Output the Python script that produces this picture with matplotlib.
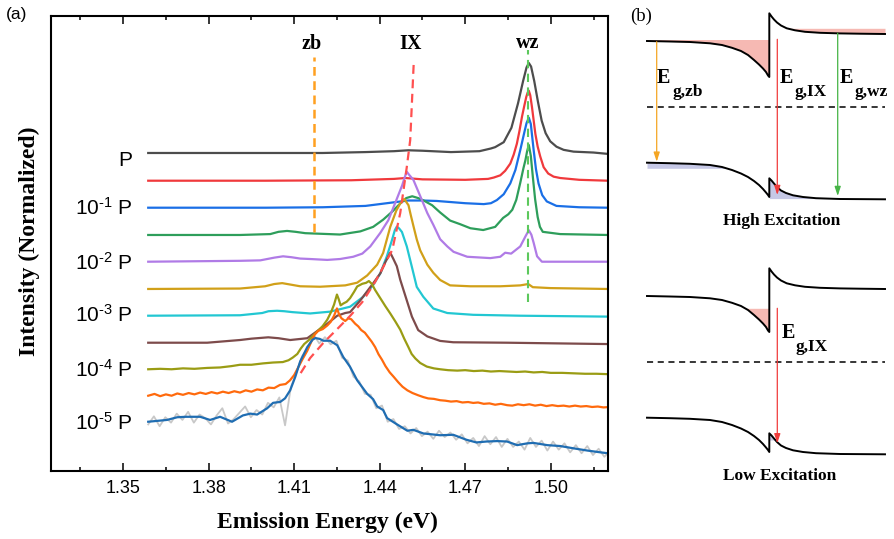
import numpy as np
import matplotlib.pyplot as plt

plt.rcParams.update({
    "font.family": "Liberation Sans",
    "mathtext.fontset": "custom",
    "mathtext.rm": "Liberation Sans",
    "mathtext.it": "Liberation Sans:italic",
    "mathtext.bf": "Liberation Sans:bold",
})
SERIF = "Liberation Serif"

# ---------- (a) spectra: energy (eV) and normalized intensity ----------
gray_e = [1.3588, 1.38, 1.40, 1.42, 1.435, 1.445, 1.45, 1.455, 1.465, 1.475, 1.4790, 1.4805,
          1.4835, 1.4862, 1.4885, 1.4903, 1.4915, 1.4923, 1.4931, 1.4942, 1.4955, 1.4968, 1.4982,
          1.4998, 1.502, 1.5045, 1.508, 1.515, 1.52]
gray_i = [0, 0, 0, 0, 0.01, 0.02, 0.03, 0.025, 0.01, 0.02, 0.05, 0.065,
          0.12, 0.28, 0.55, 0.80, 0.95, 1.00, 0.96, 0.80, 0.57, 0.36, 0.22,
          0.13, 0.07, 0.035, 0.015, 0.005, -0.01]

red_e = [1.3588, 1.40, 1.43, 1.445, 1.449, 1.455, 1.47, 1.4780, 1.4800, 1.4823, 1.4840, 1.4858,
         1.4870, 1.4881, 1.4890, 1.4899, 1.4907, 1.4914, 1.4919, 1.4923, 1.4928, 1.4934, 1.4940,
         1.4946, 1.4954, 1.4963, 1.4975, 1.4991, 1.501, 1.5033, 1.51, 1.52]
red_i = [0, 0, 0.005, 0.02, 0.03, 0.015, 0.01, 0.02, 0.035, 0.06, 0.11, 0.19,
         0.29, 0.41, 0.55, 0.71, 0.83, 0.93, 0.98, 1.0, 0.95, 0.82, 0.67,
         0.52, 0.38, 0.27, 0.15, 0.08, 0.045, 0.03, 0.01, 0.0]

blue_e = [1.3588, 1.40, 1.42, 1.435, 1.44, 1.445, 1.45, 1.455, 1.46, 1.47, 1.4765, 1.4790,
          1.4811, 1.4835, 1.4858, 1.4876, 1.4893, 1.4906, 1.4915, 1.4923, 1.4930, 1.4940, 1.4948,
          1.4957, 1.4970, 1.4986, 1.502, 1.51, 1.52]
blue_i = [0, 0, 0.005, 0.02, 0.04, 0.06, 0.08, 0.08, 0.075, 0.05, 0.04, 0.05,
          0.085, 0.15, 0.27, 0.42, 0.64, 0.82, 0.94, 1.0, 0.93, 0.64, 0.43,
          0.27, 0.14, 0.07, 0.02, 0.005, 0.0]

green_e = [1.3588, 1.391, 1.4016, 1.4045, 1.4075, 1.4105, 1.4139, 1.4261, 1.4332, 1.4377, 1.4412,
           1.4444, 1.4472, 1.4493, 1.4514, 1.4535, 1.4556, 1.4584, 1.4612, 1.4647, 1.4682, 1.4718,
           1.4763, 1.4805, 1.4833, 1.4851, 1.4865, 1.4879, 1.4893, 1.4904, 1.4911, 1.4917, 1.4923,
           1.4930, 1.4937, 1.4945, 1.4954, 1.4962, 1.4972, 1.5033, 1.52]
green_i = [0, 0, 0.01, 0.035, 0.045, 0.035, 0.02, 0.005, 0.04, 0.09, 0.17,
           0.26, 0.35, 0.41, 0.43, 0.41, 0.38, 0.33, 0.25, 0.16, 0.12, 0.075,
           0.055, 0.09, 0.19, 0.23, 0.28, 0.39, 0.58, 0.74, 0.83, 0.93, 1.0,
           0.88, 0.65, 0.40, 0.20, 0.09, 0.035, 0.01, 0.0]

purple_e = [1.3588, 1.391, 1.3981, 1.4030, 1.4061, 1.4090, 1.4121, 1.4156, 1.4216, 1.4261, 1.4307,
            1.4339, 1.4367, 1.4402, 1.4430, 1.4454, 1.4479, 1.4489, 1.4495, 1.4502, 1.4518, 1.4542,
            1.4567, 1.4588, 1.4612, 1.4637, 1.4659, 1.4707, 1.4788, 1.4823, 1.4840, 1.4861, 1.4893,
            1.4911, 1.4923, 1.4932, 1.4940, 1.4952, 1.4969, 1.52]
purple_i = [0, 0.01, 0.015, 0.045, 0.06, 0.05, 0.035, 0.03, 0.02, 0.03, 0.055,
            0.09, 0.17, 0.32, 0.46, 0.65, 0.85, 0.95, 1.0, 0.97, 0.91, 0.73,
            0.54, 0.41, 0.25, 0.17, 0.11, 0.055, 0.04, 0.055, 0.10, 0.09, 0.17,
            0.28, 0.35, 0.30, 0.21, 0.06, 0.0, 0.0]

gold_e = [1.3588, 1.391, 1.3998, 1.4030, 1.4058, 1.4085, 1.4121, 1.4191, 1.4279, 1.4321, 1.4356,
          1.4391, 1.4412, 1.4437, 1.4458, 1.4472, 1.4486, 1.4501, 1.4509, 1.4519, 1.4530, 1.4542,
          1.4567, 1.4588, 1.4612, 1.4647, 1.4718, 1.4823, 1.4893, 1.4921, 1.4937, 1.4998, 1.52]
gold_i = [0, 0.005, 0.03, 0.055, 0.065, 0.05, 0.03, 0.025, 0.04, 0.07, 0.15,
          0.27, 0.40, 0.69, 0.87, 0.95, 1.0, 0.93, 0.82, 0.69, 0.55, 0.43,
          0.27, 0.18, 0.10, 0.04, 0.03, 0.03, 0.04, 0.055, 0.02, 0.01, 0.0]

cyan_e = [1.3588, 1.391, 1.3988, 1.4010, 1.4040, 1.4065, 1.4093, 1.4156, 1.4226, 1.4296, 1.4342,
          1.4377, 1.4402, 1.4425, 1.4443, 1.4453, 1.4460, 1.4468, 1.4478, 1.4495, 1.4513, 1.4530,
          1.4553, 1.4588, 1.4637, 1.4728, 1.4893, 1.52]
cyan_i = [0, 0.005, 0.03, 0.05, 0.055, 0.05, 0.04, 0.025, 0.045, 0.10, 0.21,
          0.34, 0.47, 0.66, 0.84, 0.95, 0.99, 0.97, 0.93, 0.77, 0.54, 0.32,
          0.21, 0.08, 0.03, 0.01, 0.0, -0.01]

brown_e = [1.3588, 1.3795, 1.391, 1.3950, 1.4009, 1.4045, 1.4086, 1.4146, 1.4181, 1.4216, 1.4251,
           1.4279, 1.4296, 1.4332, 1.4377, 1.4402, 1.4419, 1.4437, 1.4448, 1.4460, 1.4472, 1.4495,
           1.4513, 1.4535, 1.4567, 1.4612, 1.4658, 1.4847, 1.52]
brown_i = [0, 0.0, 0.03, 0.045, 0.06, 0.05, 0.03, 0.05, 0.13, 0.21, 0.30,
           0.33, 0.34, 0.47, 0.66, 0.77, 0.89, 1.0, 0.93, 0.85, 0.70, 0.47,
           0.29, 0.14, 0.07, 0.02, 0.005, 0.0, -0.015]

olive_e = [1.3588, 1.3630, 1.3670, 1.3710, 1.3750, 1.3795, 1.3840, 1.3880, 1.3910, 1.3950, 1.3990,
           1.4026, 1.4060, 1.4080, 1.4095, 1.4111, 1.4123, 1.4135, 1.4150, 1.4165, 1.4181, 1.4200,
           1.4216, 1.4230, 1.4240, 1.4250, 1.4256, 1.4263, 1.4272, 1.4284, 1.4296, 1.4310, 1.4321,
           1.4339, 1.4352, 1.4362, 1.4372, 1.4384, 1.4402, 1.4420, 1.4437, 1.4455, 1.4472, 1.4486,
           1.4500, 1.4512, 1.4525, 1.4542, 1.4565, 1.4590, 1.4612, 1.4640, 1.4672, 1.4700, 1.4730,
           1.4760, 1.4790, 1.4820, 1.4850, 1.4880, 1.4910, 1.4940, 1.4970, 1.5000, 1.5040, 1.5080,
           1.5120, 1.5160, 1.5205]
olive_i = [0.00, 0.005, 0.0, 0.01, 0.005, 0.015, 0.02, 0.035, 0.05, 0.05, 0.065,
           0.075, 0.08, 0.10, 0.13, 0.17, 0.23, 0.28, 0.32, 0.37, 0.42, 0.48,
           0.55, 0.64, 0.72, 0.83, 0.78, 0.71, 0.73, 0.75, 0.79, 0.86, 0.92,
           0.95, 0.96, 0.98, 0.95, 0.88, 0.79, 0.70, 0.62, 0.53, 0.44, 0.34,
           0.25, 0.17, 0.12, 0.07, 0.03, 0.01, 0.0, -0.01, -0.015, -0.01, -0.02,
           -0.015, -0.025, -0.02, -0.025, -0.03, -0.025, -0.035, -0.03, -0.04, -0.04, -0.045,
           -0.05, -0.05, -0.055]

orange_e = [1.3588, 1.3610, 1.3630, 1.3650, 1.3670, 1.3690, 1.3710, 1.3730, 1.3750, 1.3770, 1.3790,
            1.3810, 1.3830, 1.3850, 1.3870, 1.3890, 1.3910, 1.3930, 1.3950, 1.3970, 1.3990, 1.4010,
            1.4030, 1.4050, 1.4070, 1.4085, 1.4100, 1.4115, 1.4130, 1.4146, 1.4160, 1.4172, 1.4184,
            1.4200, 1.4216, 1.4228, 1.4240, 1.4250, 1.4258, 1.4266, 1.4279, 1.4290, 1.4300, 1.4314,
            1.4325, 1.4335, 1.4348, 1.4360, 1.4372, 1.4384, 1.4396, 1.4408, 1.4420, 1.4435, 1.4449,
            1.4465, 1.4480, 1.4497, 1.4515, 1.4535, 1.4553, 1.4570, 1.4590, 1.4612, 1.4630, 1.4650,
            1.4670, 1.4690, 1.4710, 1.4728, 1.4745, 1.4765, 1.4785, 1.4805, 1.4825, 1.4847, 1.4865,
            1.4885, 1.4905, 1.4925, 1.4945, 1.4965, 1.4985, 1.5005, 1.5025, 1.5045, 1.5065, 1.5085,
            1.5105, 1.5125, 1.5145, 1.5165, 1.5185, 1.5205]
orange_i = [0.00, 0.02, -0.005, 0.015, 0.00, 0.025, 0.01, 0.03, 0.015, 0.035, 0.02,
            0.04, 0.025, 0.045, 0.03, 0.05, 0.035, 0.06, 0.045, 0.07, 0.06, 0.09,
            0.085, 0.12, 0.13, 0.17, 0.23, 0.32, 0.41, 0.50, 0.60, 0.68, 0.72,
            0.74, 0.78, 0.82, 0.89, 0.97, 0.90, 0.86, 0.83, 0.86, 0.85, 0.80,
            0.77, 0.73, 0.70, 0.65, 0.60, 0.54, 0.46, 0.40, 0.33, 0.26, 0.21,
            0.15, 0.10, 0.06, 0.03, 0.005, -0.015, -0.03, -0.035, -0.05, -0.055, -0.065,
            -0.06, -0.075, -0.07, -0.08, -0.075, -0.09, -0.085, -0.10, -0.09, -0.105, -0.11,
            -0.095, -0.105, -0.095, -0.11, -0.10, -0.115, -0.105, -0.115, -0.11, -0.12, -0.11,
            -0.12, -0.115, -0.125, -0.12, -0.13, -0.125]

b5_e = [1.3588, 1.3654, 1.3690, 1.3720, 1.3770, 1.3805, 1.3840, 1.3882, 1.3920, 1.3946,
        1.3970, 1.4005, 1.4026, 1.4051, 1.4068, 1.4086, 1.4104, 1.4121, 1.4146, 1.4164,
        1.4174, 1.4190, 1.4202, 1.4226, 1.4251, 1.4272, 1.4296, 1.4321, 1.4356, 1.4377,
        1.4391, 1.4412, 1.4426, 1.4461, 1.4497, 1.4518, 1.4553, 1.4612, 1.4658, 1.4704,
        1.4739, 1.4774, 1.4812, 1.4847, 1.4882, 1.4918, 1.4939, 1.4988, 1.5033, 1.5079,
        1.5128, 1.5174, 1.5200]
b5_i = [0.0, 0.02, 0.05, 0.055, 0.055, 0.02, 0.055, 0.0, 0.07, 0.09,
        0.08, 0.149, 0.21, 0.22, 0.26, 0.35, 0.50, 0.67, 0.83, 0.91,
        0.93, 0.92, 0.90, 0.90, 0.85, 0.72, 0.61, 0.46, 0.31, 0.25,
        0.17, 0.13, 0.04, -0.03, -0.10, -0.09, -0.13, -0.15, -0.145, -0.20,
        -0.23, -0.22, -0.215, -0.22, -0.26, -0.24, -0.235, -0.26, -0.27, -0.295,
        -0.32, -0.34, -0.35]

# raw (unsmoothed) lowest-power spectrum, sampled every 2 meV
raw_e = np.linspace(1.3588, 1.5208, 82)
raw_i = [-0.03, 0.06, -0.05, 0.05, -0.01, 0.09, 0.02, 0.11, -0.01, 0.08,
         0.04, -0.03, 0.07, 0.15, -0.02, 0.03, 0.10, 0.17, 0.05, 0.13,
         0.08, 0.21, 0.16, 0.27, -0.04, 0.38, 0.55, 0.73, 0.82, 0.97,
         0.87, 0.94, 0.86, 0.90, 0.71, 0.68, 0.50, 0.45, 0.31, 0.30,
         0.15, 0.18, 0.00, 0.03, -0.08, -0.05, -0.13, -0.07, -0.16, -0.11,
         -0.19, -0.10, -0.17, -0.12, -0.20, -0.14, -0.24, -0.18, -0.27, -0.16,
         -0.25, -0.17, -0.28, -0.19, -0.28, -0.22, -0.31, -0.18, -0.28, -0.21,
         -0.32, -0.22, -0.31, -0.24, -0.34, -0.26, -0.35, -0.27, -0.37, -0.30,
         -0.39, -0.32]

spectra_e = [gray_e, red_e, blue_e, green_e, purple_e, gold_e, cyan_e, brown_e, olive_e, orange_e, b5_e]
spectra_i = [gray_i, red_i, blue_i, green_i, purple_i, gold_i, cyan_i, brown_i, olive_i, orange_i, b5_i]
offsets = [3.530, 3.222, 2.922, 2.619, 2.322, 2.019, 1.722, 1.422, 1.127, 0.833, 0.544]
colors = ["#4d4d4d", "#f0393c", "#1a6fe6", "#2e9e5b", "#b07be6", "#d1a019",
          "#22c7d2", "#7d4b4b", "#9a9c14", "#ff6a0d", "#1f6db2"]

power_labels = ["P", r"10$^{\text{-}1}$ P", r"10$^{\text{-}2}$ P", r"10$^{\text{-}3}$ P",
                r"10$^{\text{-}4}$ P", r"10$^{\text{-}5}$ P"]
power_label_y = [3.452, 2.919, 2.308, 1.730, 1.119, 0.527]

# guide lines
zb_e, zb_span = 1.4170, (2.652, 4.597)
wz_e, wz_span = 1.4921, (1.874, 4.674)
ix_e = [1.4519, 1.4507, 1.4495, 1.4472, 1.4444, 1.4416, 1.4384, 1.4339, 1.4296, 1.4251, 1.4202, 1.4156, 1.4114]
ix_u = [4.508, 3.674, 3.374, 2.863, 2.452, 2.286, 2.097, 1.874, 1.719, 1.574, 1.419, 1.252, 1.041]

# ---------- (b) band diagram (pixel coordinates of the schematic) ----------
cb_x = [647, 670, 690, 710, 722, 732, 741, 748, 754, 759, 763, 766, 768, 769.3,
        769.3, 771.7, 774, 777, 781, 786.7, 795, 805, 820, 840, 860, 885]
cb_y = [41, 41.5, 42, 43.3, 45, 47.8, 51, 55, 60, 64.5, 68.5, 72, 75.5, 77,
        13.3, 16.7, 19.5, 22.5, 25.5, 28.3, 30.3, 31.8, 32.8, 33.4, 33.7, 34]
vb_x = [647, 670, 690, 710, 722, 732, 741, 748, 754, 759, 763, 766, 768, 769.3,
        769.3, 771.5, 774, 777, 781, 786, 793, 803, 816, 840, 885]
vb_y = [162.7, 163.2, 163.8, 165, 167, 170, 173.5, 177, 181, 185, 189, 192.5, 195, 197,
        178.3, 180.5, 183.5, 187, 190.5, 193, 195.3, 197, 198.2, 199, 199.3]
low_shift = 255
fermi_y = 106.7

fig = plt.figure(figsize=(8.95, 5.39), dpi=100)

# ---------- panel (a) ----------
ax = fig.add_axes([51 / 895, 1 - 470.7 / 539, 556.5 / 895, 454.7 / 539])
ax.plot(raw_e, np.array(raw_i) + offsets[-1], color="#c8c8c8", lw=1.3, zorder=1)
for e, i, off, c in zip(spectra_e, spectra_i, offsets, colors):
    ax.plot(e, np.array(i) + off, color=c, lw=1.6, zorder=2, solid_joinstyle="round")

ax.plot([zb_e, zb_e], zb_span, color="#ffa020", lw=1.8, ls=(0, (3.5, 2.2)), zorder=5)
ax.plot([wz_e, wz_e], wz_span, color="#5cc85c", lw=1.5, ls=(0, (4, 2.6)), zorder=5)
ax.plot(ix_e, ix_u, color="#ff5050", lw=1.6, ls=(0, (4, 2.5)), zorder=5)

for txt, e, y in zip(["zb", "IX", "wz"], [1.4163, 1.4507, 1.4918], [4.685, 4.685, 4.70]):
    ax.text(e, y, txt, family=SERIF, fontweight="bold", fontsize=14.5, ha="center", va="baseline")

for txt, y in zip(power_labels, power_label_y):
    ax.text(1.3532, y, txt, fontsize=15, ha="right", va="center")

ax.set_xlim(1.3247, 1.5199)
ax.set_ylim(0, 5.052)
ax.set_xticks([1.35, 1.38, 1.41, 1.44, 1.47, 1.50])
ax.set_xticklabels(["1.35", "1.38", "1.41", "1.44", "1.47", "1.50"])
ax.set_xticks(np.arange(1.335, 1.52, 0.03), minor=True)
ax.set_yticks([])
ax.tick_params(axis="x", which="both", direction="in", top=True, bottom=True, width=1.1,
               labelsize=13, pad=6.5)
ax.tick_params(axis="x", which="major", length=5.5)
ax.tick_params(axis="x", which="minor", length=3.2)
for s in ax.spines.values():
    s.set_linewidth(1.5)

fig.text(327.5 / 895, 1 - 528.3 / 539, "Emission Energy (eV)", family=SERIF, fontweight="bold",
         fontsize=17, ha="center", va="baseline")
fig.text(29 / 895, 1 - 241.5 / 539, "Intensity (Normalized)", family=SERIF, fontweight="bold",
         fontsize=17, ha="center", va="center", rotation=90)
fig.text(16.5 / 895, 1 - 14 / 539, "(a)", fontsize=12.5, ha="center", va="center")

# ---------- panel (b) ----------
axb = fig.add_axes([610 / 895, 0, 285 / 895, 1])
axb.set_xlim(610, 895)
axb.set_ylim(539, 0)
axb.axis("off")

PINK, LAV = "#f6b9b3", "#c6c8e6"
cbx, cby = np.array(cb_x), np.array(cb_y)
vbx, vby = np.array(vb_x), np.array(vb_y)

# high excitation
axb.fill_between(cbx[:14], 39.5, cby[:14], color=PINK, lw=0)
axb.fill_between(cbx[14:], 28.3, cby[14:], where=cby[14:] > 28.3, interpolate=True, color=PINK, lw=0)
axb.fill_between(vbx[:14], vby[:14], 168.3, where=vby[:14] < 168.3, interpolate=True, color=LAV, lw=0)
axb.fill_between(vbx[14:], vby[14:], 198.6, where=vby[14:] < 198.6, interpolate=True, color=LAV, lw=0)
# low excitation
axb.fill_between(cbx[:14], 308.3, cby[:14] + low_shift, where=cby[:14] + low_shift > 308.3,
                 interpolate=True, color=PINK, lw=0)
axb.fill_between(vbx[14:], vby[14:] + low_shift, 440, where=vby[14:] + low_shift < 440,
                 interpolate=True, color=LAV, lw=0)

for sh in (0, low_shift):
    axb.plot(cbx, cby + sh, color="black", lw=1.4)
    axb.plot(vbx, vby + sh, color="black", lw=1.4)
    axb.plot([647, 885], [fermi_y + sh, fermi_y + sh], color="black", lw=1.1, ls=(0, (4, 3)))

arrows = [((656.7, 41.7), (656.7, 161.7), "#f5a623"),
          ((777.3, 39.3), (777.3, 195), "#f03c3c"),
          ((837.7, 33.3), (837.7, 196), "#46b446"),
          ((777.3, 308.3), (777.3, 443.3), "#f03c3c")]
for start, end, c in arrows:
    axb.annotate("", xy=end, xytext=start,
                 arrowprops=dict(arrowstyle="-|>,head_length=0.55,head_width=0.18", color=c, lw=0.9,
                                 shrinkA=0, shrinkB=0))

e_labels = [(657, 83.3, 673, 95.7, "g,zb"), (780, 83.3, 795, 95.7, "g,IX"),
            (840, 83.3, 854.5, 95.7, "g,wz"), (782, 338.3, 796, 350.7, "g,IX")]
for ex, ey, sx, sy, sub in e_labels:
    axb.text(ex, ey, "E", family=SERIF, fontweight="bold", fontsize=14.5, ha="left", va="baseline")
    axb.text(sx, sy, sub, family=SERIF, fontweight="bold", fontsize=12.5, ha="left", va="baseline")

axb.text(781.7, 225, "High Excitation", family=SERIF, fontweight="bold", fontsize=12.5,
         ha="center", va="baseline")
axb.text(779.2, 480, "Low Excitation", family=SERIF, fontweight="bold", fontsize=12.5,
         ha="center", va="baseline")
axb.text(641, 16, "(b)", family=SERIF, fontsize=13.5, ha="center", va="center")

fig.savefig("out.png", dpi=100)
